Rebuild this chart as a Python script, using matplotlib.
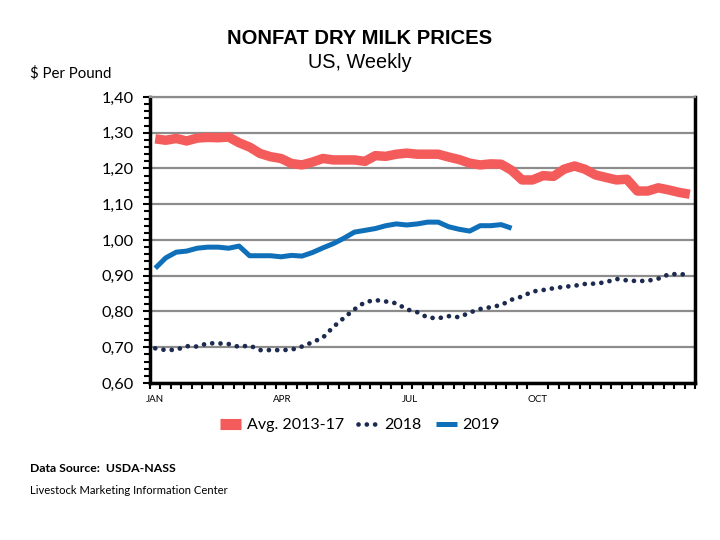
import matplotlib
matplotlib.use("Agg")
import matplotlib.pyplot as plt
from matplotlib.lines import Line2D
from matplotlib.ticker import MultipleLocator, FuncFormatter
import numpy as np

weeks = list(range(52))

avg_2013_17 = [1.283, 1.279, 1.284, 1.277, 1.285, 1.287, 1.286, 1.288, 1.272, 1.260,
               1.242, 1.233, 1.228, 1.214, 1.210, 1.218, 1.228, 1.224, 1.224, 1.224,
               1.220, 1.236, 1.234, 1.240, 1.243, 1.240, 1.240, 1.240, 1.232, 1.225,
               1.215, 1.210, 1.213, 1.212, 1.195, 1.168, 1.168, 1.180, 1.178, 1.198,
               1.207, 1.198, 1.182, 1.175, 1.168, 1.170, 1.137, 1.137, 1.146, 1.140,
               1.133, 1.128]

y2018 = [0.697, 0.692, 0.693, 0.703, 0.702, 0.711, 0.711, 0.709, 0.701, 0.705,
         0.692, 0.692, 0.692, 0.693, 0.702, 0.714, 0.727, 0.757, 0.782, 0.806,
         0.826, 0.832, 0.828, 0.823, 0.806, 0.798, 0.783, 0.781, 0.787, 0.784,
         0.797, 0.807, 0.812, 0.818, 0.833, 0.842, 0.856, 0.860, 0.865, 0.869,
         0.872, 0.877, 0.878, 0.882, 0.891, 0.887, 0.885, 0.886, 0.892, 0.904,
         0.905, 0.902]

y2019 = [0.921, 0.950, 0.966, 0.969, 0.977, 0.980, 0.980, 0.977, 0.983, 0.956,
         0.956, 0.956, 0.953, 0.957, 0.955, 0.965, 0.978, 0.990, 1.005, 1.022,
         1.027, 1.032, 1.040, 1.045, 1.042, 1.045, 1.050, 1.050, 1.037, 1.030,
         1.025, 1.040, 1.040, 1.043, 1.033]

month_labels = ["JAN", "APR", "JUL", "OCT"]
month_pos = [0, 12.1, 24.3, 36.5]

c_avg = "#F45B5B"
c_2018 = "#1B2A4E"
c_2019 = "#0F6FB8"

body_font = ["Lato", "DejaVu Sans"]
title_font = ["Liberation Sans", "DejaVu Sans"]

fig = plt.figure(figsize=(7.2, 5.4), dpi=100)
ax = fig.add_axes([150/720, 1-383/540, (695-150)/720, (383-97)/540])

ax.set_xlim(-0.5, 51.5)
ax.set_ylim(0.60, 1.40)

ax.yaxis.set_major_locator(MultipleLocator(0.10))
ax.yaxis.set_minor_locator(MultipleLocator(0.02))
ax.grid(axis="y", which="major", color="#8C8C8C", linewidth=1.6, zorder=0)
ax.set_axisbelow(True)

ax.plot(weeks, avg_2013_17, color=c_avg, linewidth=6.8, solid_capstyle="butt", zorder=3)
ax.plot(weeks[:len(y2019)], y2019, color=c_2019, linewidth=3.6, solid_capstyle="butt", zorder=4)
ax.plot(weeks, y2018, color=c_2018, linewidth=3.4, linestyle=(0, (0.01, 1.75)),
        dash_capstyle="round", zorder=4)

ax.yaxis.set_major_formatter(FuncFormatter(lambda v, p: f"{v:.2f}".replace(".", ",")))
ax.set_xticks(month_pos)
ax.set_xticklabels(month_labels, fontfamily=body_font, fontsize=7)
ax.set_xticks(np.arange(-0.5, 52, 1), minor=True)
ax.tick_params(axis="x", which="major", length=0, pad=9)
ax.tick_params(axis="x", which="minor", length=4, width=1.5, direction="out", color="black")
ax.tick_params(axis="y", which="major", length=5, width=1.5, direction="out", pad=7)
ax.tick_params(axis="y", which="minor", length=4, width=1.5, direction="out")
for lbl in ax.get_yticklabels():
    lbl.set_fontfamily(body_font)
    lbl.set_fontsize(11.8)

for s in ["left", "bottom", "right"]:
    ax.spines[s].set_color("black")
    ax.spines[s].set_linewidth(2.5)
ax.spines["top"].set_color("#8C8C8C")
ax.spines["top"].set_linewidth(1.6)

fig.text(0.499, 1-38/540, "NONFAT DRY MILK PRICES", ha="center", va="center",
         fontsize=14.6, fontweight="bold", fontfamily=title_font)
fig.text(0.500, 1-62/540, "US, Weekly", ha="center", va="center",
         fontsize=14.3, fontfamily=title_font)
fig.text(30/720, 1-73/540, "$ Per Pound", ha="left", va="center",
         fontsize=10.8, fontfamily=body_font)

handles = [
    Line2D([0], [0], color=c_avg, linewidth=8, solid_capstyle="butt"),
    Line2D([0], [0], color=c_2018, linewidth=3.4, linestyle=(0, (0.01, 1.75)), dash_capstyle="round"),
    Line2D([0], [0], color=c_2019, linewidth=3.6, solid_capstyle="butt"),
]
leg = fig.legend(handles, ["Avg. 2013-17", "2018", "2019"], loc="center",
                 bbox_to_anchor=(0.5, 1-425/540), ncol=3, frameon=False,
                 handlelength=1.3, handletextpad=0.35, columnspacing=0.9,
                 prop={"family": body_font, "size": 11.5})

fig.text(30/720, 1-468/540, "Data Source:  USDA-NASS", ha="left", va="center",
         fontsize=8.8, fontweight="bold", fontfamily=body_font)
fig.text(30/720, 1-490/540, "Livestock Marketing Information Center", ha="left", va="center",
         fontsize=8.1, fontfamily=body_font)

fig.savefig("out.png", dpi=100)
